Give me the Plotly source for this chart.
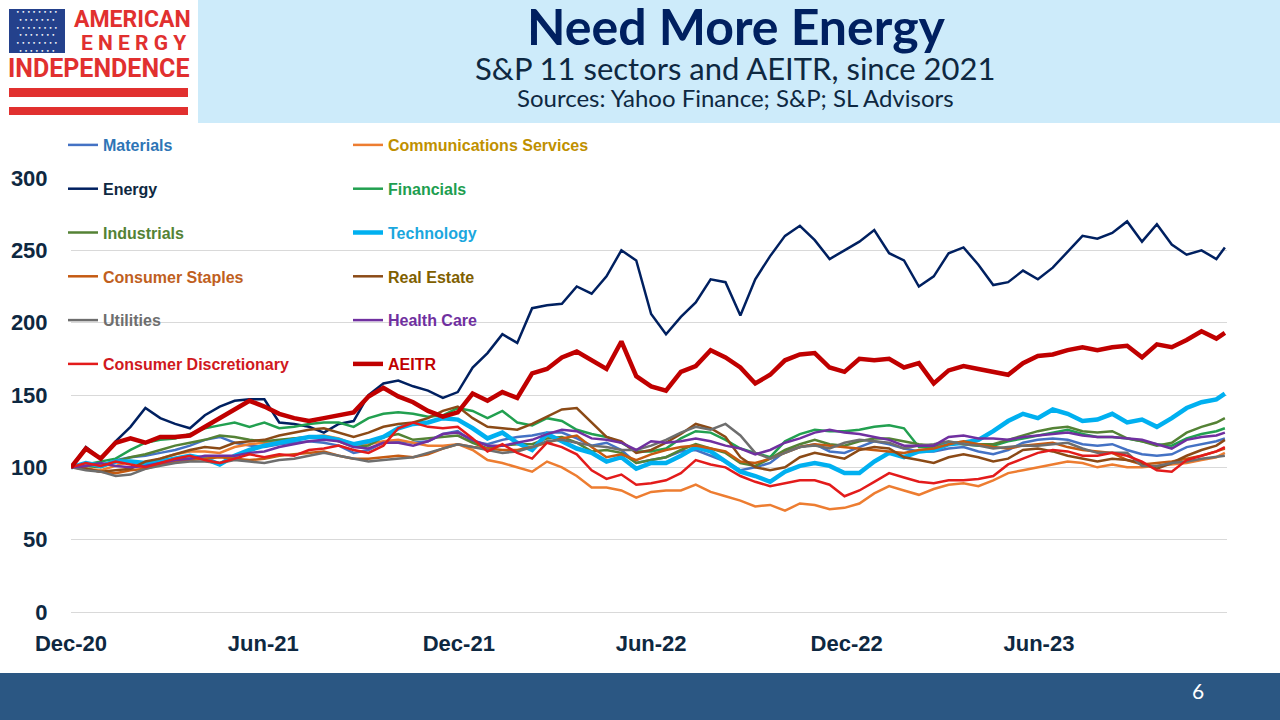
import plotly.graph_objects as go
import pandas as pd

# biweekly sample dates, Dec 2020 to Dec 2023
dates = pd.date_range("2020-12-31", periods=78, freq="14D").append(pd.DatetimeIndex(["2023-12-22"]))

materials = [100, 102, 101, 105, 107, 108, 110, 112, 115, 119,
             121, 117, 115, 114, 116, 117, 118, 117, 115, 110,
             112, 117, 118, 117, 118, 123, 125, 118, 116, 119,
             121, 122, 124, 124, 120, 115, 117, 112, 103, 105,
             107, 111, 112, 108, 104, 98, 100, 103, 111, 114,
             116, 111, 110, 114, 118, 116, 113, 111, 111, 113,
             114, 111, 109, 112, 117, 119, 120, 119, 116, 115,
             116, 112, 109, 108, 109, 114, 116, 118, 120]
communications = [100, 99, 98, 101, 104, 103, 106, 109, 111, 111,
                  110, 114, 116, 117, 118, 120, 121, 122, 120, 116,
                  116, 118, 119, 117, 115, 115, 116, 112, 105, 103,
                  100, 97, 104, 100, 94, 86, 86, 84, 79, 83,
                  84, 84, 88, 83, 80, 77, 73, 74, 70, 75,
                  74, 71, 72, 75, 82, 87, 84, 81, 85, 88,
                  89, 87, 91, 96, 98, 100, 102, 104, 103, 100,
                  102, 100, 100, 101, 102, 103, 105, 107, 110]
energy = [100, 114, 106, 118, 128, 141, 134, 130, 127, 136,
          142, 146, 147, 147, 131, 130, 128, 124, 130, 132,
          150, 158, 160, 156, 153, 148, 152, 169, 179, 192,
          186, 210, 212, 213, 225, 220, 232, 250, 243, 206,
          192, 204, 214, 230, 228, 205, 230, 246, 260, 267,
          257, 244, 250, 256, 264, 248, 243, 225, 232, 248,
          252, 240, 226, 228, 236, 230, 238, 249, 260, 258,
          262, 270, 256, 268, 254, 247, 250, 244, 252]
financials = [100, 102, 104, 106, 112, 117, 119, 120, 123, 127,
              129, 131, 128, 131, 127, 128, 130, 131, 131, 128,
              134, 137, 138, 137, 135, 136, 141, 139, 134, 139,
              131, 129, 134, 132, 126, 123, 121, 117, 111, 111,
              113, 120, 125, 124, 119, 113, 110, 107, 118, 123,
              126, 125, 125, 126, 128, 129, 127, 114, 114, 117,
              116, 115, 115, 118, 120, 122, 124, 126, 123, 121,
              121, 120, 118, 116, 115, 120, 123, 125, 127]
industrials = [100, 101, 100, 104, 107, 109, 112, 115, 117, 119,
               122, 121, 119, 118, 119, 120, 121, 121, 118, 114,
               115, 121, 123, 119, 120, 121, 122, 117, 113, 115,
               116, 116, 120, 121, 117, 111, 112, 110, 103, 105,
               107, 112, 116, 113, 110, 103, 101, 106, 112, 116,
               119, 116, 115, 118, 120, 120, 118, 116, 115, 117,
               117, 116, 116, 119, 122, 125, 127, 128, 125, 124,
               125, 120, 118, 115, 117, 124, 128, 131, 134]
technology = [100, 103, 101, 104, 104, 103, 104, 106, 108, 106,
              102, 108, 112, 115, 117, 119, 121, 121, 119, 116,
              118, 121, 127, 130, 131, 134, 133, 127, 120, 124,
              117, 112, 123, 118, 113, 110, 104, 107, 99, 103,
              103, 108, 114, 111, 104, 97, 94, 90, 97, 101,
              103, 101, 96, 96, 104, 110, 107, 111, 112, 116,
              117, 119, 125, 132, 137, 134, 140, 137, 132, 133,
              137, 131, 133, 128, 134, 141, 145, 147, 151]
staples = [100, 99, 97, 96, 98, 99, 102, 104, 105, 106,
           107, 106, 105, 106, 108, 109, 110, 111, 108, 106,
           106, 107, 108, 107, 109, 113, 116, 114, 113, 112,
           112, 114, 117, 120, 122, 114, 107, 109, 105, 109,
           112, 114, 115, 113, 111, 104, 103, 106, 110, 114,
           116, 115, 114, 113, 112, 111, 110, 112, 113, 116,
           118, 116, 114, 113, 115, 116, 117, 114, 112, 111,
           110, 105, 102, 103, 104, 106, 108, 111, 113]
real_estate = [100, 99, 97, 98, 99, 104, 106, 109, 112, 114,
               113, 117, 118, 119, 122, 124, 126, 127, 124, 121,
               124, 128, 130, 131, 134, 139, 142, 134, 128, 127,
               126, 130, 135, 140, 141, 131, 121, 118, 110, 112,
               117, 123, 130, 127, 121, 107, 100, 98, 100, 107,
               110, 108, 106, 112, 114, 113, 107, 105, 103, 107,
               109, 107, 104, 106, 112, 113, 111, 108, 106, 104,
               106, 105, 103, 99, 103, 108, 112, 115, 119]
utilities = [100, 98, 97, 94, 95, 99, 101, 103, 104, 104,
             103, 105, 104, 103, 105, 106, 108, 110, 108, 106,
             104, 105, 106, 107, 110, 113, 116, 114, 112, 110,
             111, 114, 118, 119, 117, 115, 114, 112, 112, 115,
             119, 124, 128, 126, 130, 122, 110, 106, 110, 114,
             115, 113, 117, 119, 118, 117, 113, 115, 116, 118,
             116, 115, 113, 114, 115, 115, 116, 117, 113, 110,
             110, 110, 101, 101, 103, 104, 106, 107, 108]
health_care = [100, 101, 103, 101, 100, 101, 103, 105, 106, 108,
               108, 108, 110, 111, 114, 116, 118, 119, 118, 114,
               113, 117, 117, 115, 118, 123, 124, 119, 115, 115,
               117, 119, 123, 126, 125, 120, 119, 117, 112, 118,
               117, 118, 120, 118, 115, 113, 109, 112, 117, 120,
               124, 126, 124, 123, 121, 119, 115, 115, 115, 121,
               122, 120, 120, 119, 121, 122, 123, 124, 122, 121,
               121, 120, 119, 116, 113, 119, 121, 122, 124]
discretionary = [100, 103, 101, 104, 102, 100, 103, 106, 108, 105,
                 103, 106, 109, 107, 109, 108, 112, 113, 115, 112,
                 110, 115, 127, 131, 128, 127, 128, 120, 111, 116,
                 110, 106, 117, 114, 109, 98, 92, 95, 88, 89,
                 91, 96, 105, 102, 100, 94, 90, 87, 89, 91,
                 91, 88, 80, 84, 90, 96, 93, 90, 89, 91,
                 91, 92, 94, 102, 106, 110, 112, 111, 108, 108,
                 110, 108, 104, 98, 97, 105, 108, 111, 114]
aeitr = [100, 113, 106, 117, 120, 117, 121, 121, 122, 128,
         134, 140, 146, 142, 137, 134, 132, 134, 136, 138,
         149, 155, 149, 145, 139, 135, 138, 151, 146, 152,
         148, 165, 168, 176, 180, 174, 168, 187, 163, 156,
         153, 166, 170, 181, 176, 169, 158, 164, 174, 178,
         179, 169, 166, 175, 174, 175, 169, 172, 158, 167,
         170, 168, 166, 164, 172, 177, 178, 181, 183, 181,
         183, 184, 176, 185, 183, 188, 194, 189, 193]

tick_dates = ["2020-12-31", "2021-06-30", "2021-12-31", "2022-06-30", "2022-12-31", "2023-06-30"]
tick_text = ["Dec-20", "Jun-21", "Dec-21", "Jun-22", "Dec-22", "Jun-23"]

# name, values, line colour, label colour, width, legend column
series = [
    ("Materials", materials, "#4472C4", "#2E75B6", 2.5, "legend"),
    ("Communications Services", communications, "#ED7D31", "#BF9000", 2.5, "legend2"),
    ("Energy", energy, "#002060", "#0E2841", 2.5, "legend"),
    ("Financials", financials, "#22A050", "#1E9E50", 2.5, "legend2"),
    ("Industrials", industrials, "#548235", "#548235", 2.5, "legend"),
    ("Technology", technology, "#00B0F0", "#1AA7DE", 4.5, "legend2"),
    ("Consumer Staples", staples, "#C55A11", "#C0601E", 2.5, "legend"),
    ("Real Estate", real_estate, "#8B4A16", "#7F6000", 2.5, "legend2"),
    ("Utilities", utilities, "#6E6E6E", "#6E6E6E", 2.5, "legend"),
    ("Health Care", health_care, "#7030A0", "#7030A0", 2.5, "legend2"),
    ("Consumer Discretionary", discretionary, "#E31B1B", "#D01820", 2.5, "legend"),
    ("AEITR", aeitr, "#C00000", "#C00000", 4.5, "legend2"),
]

# plot area in pixels
L, R, T, B = 71, 1227, 178, 612


def fx(px):
    return (px - L) / (R - L)


def fy(py):
    return (B - py) / (B - T)


fig = go.Figure()
for name, vals, col, tcol, w, leg in series:
    fig.add_trace(go.Scatter(
        x=dates, y=vals, mode="lines",
        name=f"<span style='color:{tcol}'>{name}</span>",
        line=dict(color=col, width=w),
        legend=leg, legendgroup=name,
    ))

navy = "#0E2841"
red_logo = "#E1302F"
tickfont = dict(family="Arial, Liberation Sans", size=22, color=navy, weight="bold")
legfont = dict(family="Arial, Liberation Sans", size=16, weight="bold")

shapes = [
    dict(type="rect", xref="paper", yref="paper", x0=fx(198), x1=fx(1280), y0=fy(123), y1=fy(0),
         fillcolor="#CDEBFA", line_width=0, layer="below"),
    dict(type="rect", xref="paper", yref="paper", x0=fx(0), x1=fx(1280), y0=fy(720), y1=fy(673),
         fillcolor="#2B5783", line_width=0, layer="below"),
    dict(type="rect", xref="paper", yref="paper", x0=fx(9), x1=fx(65), y0=fy(53), y1=fy(9),
         fillcolor="#24418C", line_width=0),
    dict(type="rect", xref="paper", yref="paper", x0=fx(9), x1=fx(188), y0=fy(97), y1=fy(88),
         fillcolor=red_logo, line_width=0),
    dict(type="rect", xref="paper", yref="paper", x0=fx(9), x1=fx(188), y0=fy(115), y1=fy(107),
         fillcolor=red_logo, line_width=0),
]


def note(text, x, y, size, color, family="Lato", weight="normal", xanchor="center"):
    return dict(text=text, xref="paper", yref="paper", x=fx(x), y=fy(y), xanchor=xanchor,
                yanchor="middle", showarrow=False,
                font=dict(family=family, size=size, color=color, weight=weight))


stars = "<br>".join(["• • • • • • • •" if i % 2 == 0 else " • • • • • • • " for i in range(6)])
annotations = [
    note("Need More Energy", 736, 26, 50, "#002060", weight="bold"),
    note("S&P 11 sectors and AEITR, since 2021", 735, 68, 31, navy),
    note("Sources: Yahoo Finance; S&P; SL Advisors", 735, 98, 24, navy),
    note("AMERICAN", 132, 20, 23, red_logo, family="Roboto", weight="bold"),
    note("E N E R G Y", 133, 43, 21, red_logo, family="Roboto", weight="bold"),
    note("INDEPENDENCE", 98, 68, 25, red_logo, family="Roboto", weight="bold"),
    note(stars, 37, 31, 6, "white", family="DejaVu Sans"),
    note("6", 1198, 690, 21, "white"),
]

fig.update_layout(
    width=1280, height=720,
    margin=dict(l=L, r=1280 - R, t=T, b=720 - B),
    paper_bgcolor="white", plot_bgcolor="white",
    showlegend=True,
    xaxis=dict(type="date", range=["2020-12-31", "2023-12-24"], tickvals=tick_dates, ticktext=tick_text,
               showgrid=False, zeroline=False, showline=False, ticks="outside", ticklen=12,
               tickcolor="rgba(0,0,0,0)", tickfont=tickfont),
    yaxis=dict(range=[0, 300], dtick=50, showgrid=True, gridcolor="#D9D9D9", gridwidth=1,
               zeroline=True, zerolinecolor="#D9D9D9", zerolinewidth=1, showline=False,
               ticks="outside", ticklen=18, tickcolor="rgba(0,0,0,0)", tickfont=tickfont),
    legend=dict(x=fx(63), y=fy(128), xanchor="left", yanchor="top", bgcolor="rgba(0,0,0,0)",
                font=legfont, tracegroupgap=20, itemwidth=30),
    legend2=dict(x=fx(348), y=fy(128), xanchor="left", yanchor="top", bgcolor="rgba(0,0,0,0)",
                 font=legfont, tracegroupgap=20, itemwidth=30),
    shapes=shapes,
    annotations=annotations,
)

fig.write_html("out.html", config={"displayModeBar": False},
               post_script="document.body.style.margin='0';")
